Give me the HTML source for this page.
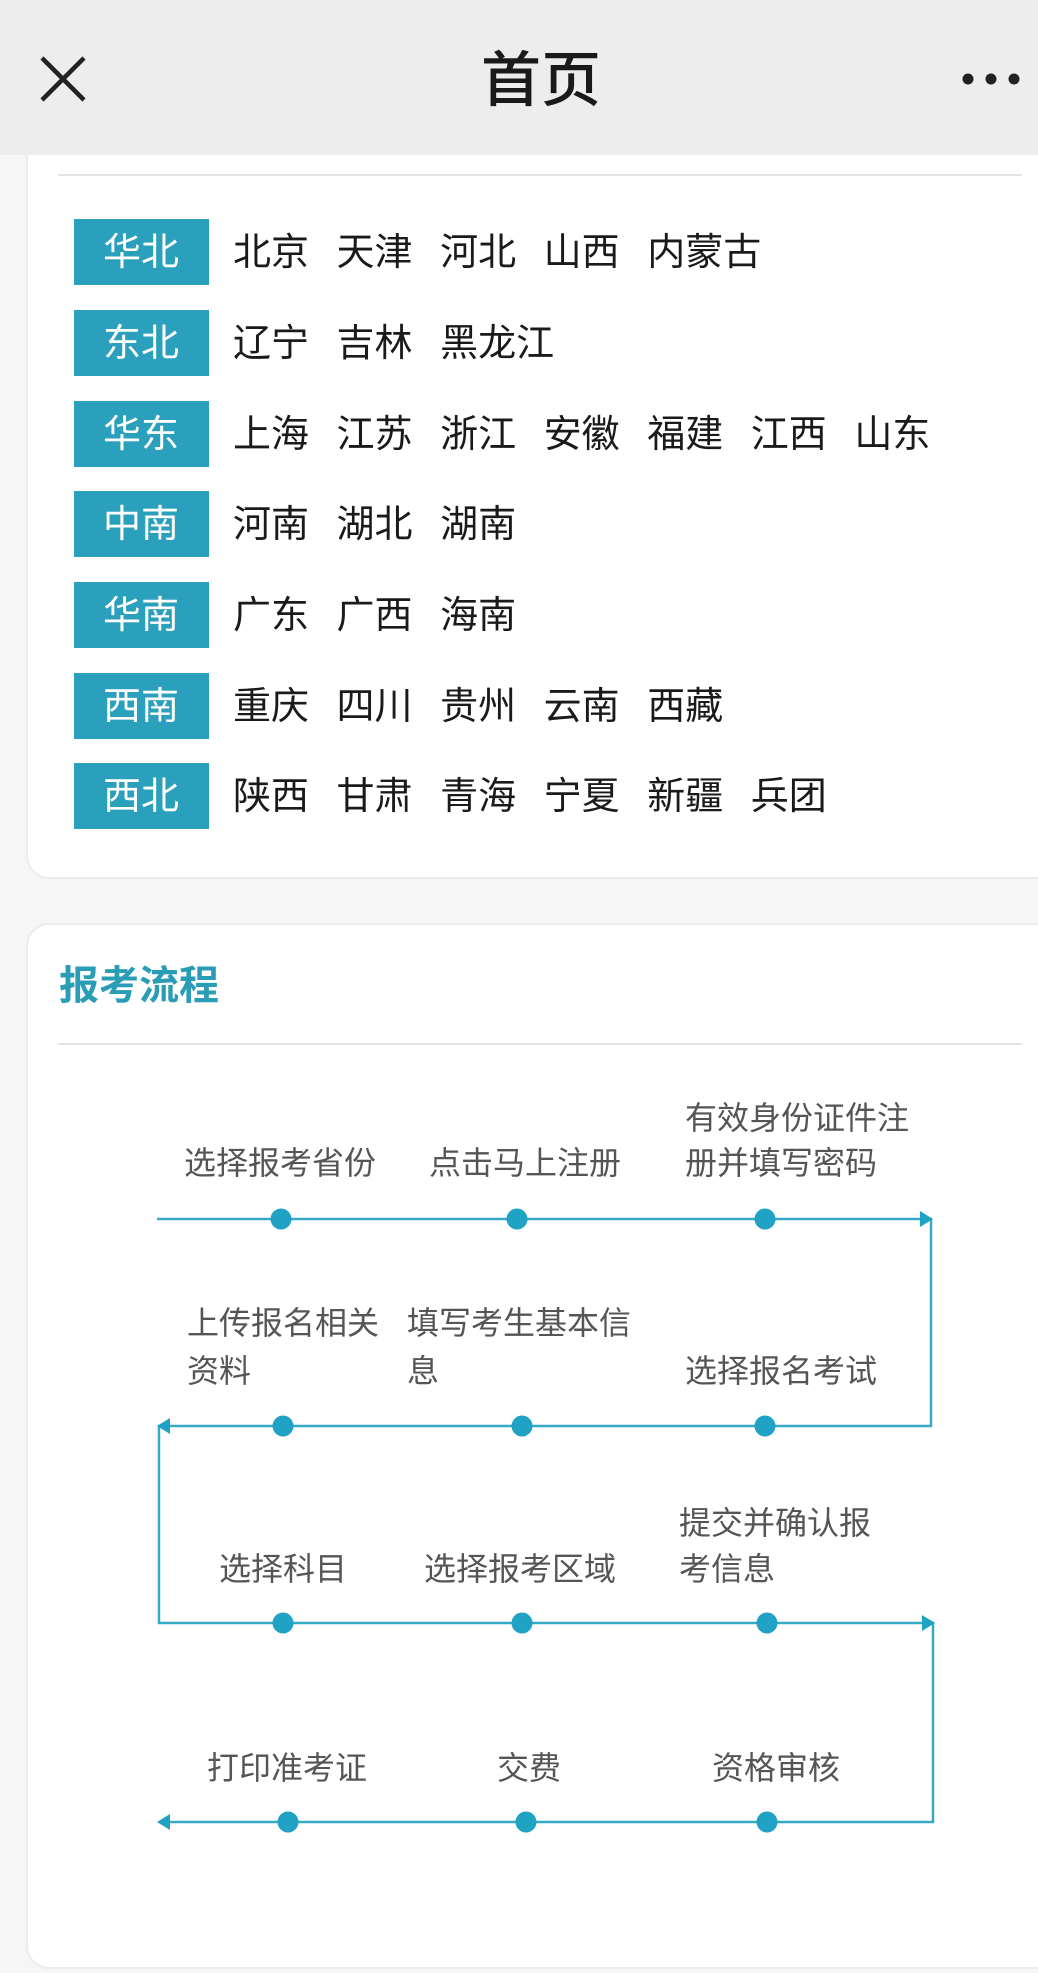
<!DOCTYPE html>
<html><head><meta charset="utf-8"><style>
html,body{margin:0;padding:0;width:1038px;height:1973px;background:#f6f6f6;overflow:hidden}
svg{display:block}
text{font-family:"Liberation Sans","Noto Sans CJK SC",sans-serif}
</style></head><body>
<svg width="1038" height="1973" viewBox="0 0 1038 1973" xmlns="http://www.w3.org/2000/svg">
<rect x="0" y="0" width="1038" height="1973" fill="#f6f6f6"/>
<rect x="27" y="120" width="1040" height="758" rx="22" fill="#fff" stroke="#ececec" stroke-width="2"/>
<line x1="58" y1="175" x2="1022" y2="175" stroke="#e3e3e3" stroke-width="2"/>
<rect x="0" y="0" width="1038" height="155" fill="#ededed"/>
<path d="M42 58 L84 100 M84 58 L42 100" stroke="#222" stroke-width="4.5"/>
<text x="541" y="101" text-anchor="middle" font-size="60" font-weight="500" fill="#1a1a1a">首页</text>
<circle cx="968" cy="79" r="5.5" fill="#222"/><circle cx="991" cy="79" r="5.5" fill="#222"/><circle cx="1014" cy="79" r="5.5" fill="#222"/>
<g font-size="38" fill="#1a1a1a">
<g transform="translate(0,219)"><rect x="74" width="135" height="66" fill="#2aa0bd"/><text x="141" y="46" text-anchor="middle" fill="#fff">华北</text><text x="233" y="46" word-spacing="17">北京 天津 河北 山西 内蒙古</text></g>
<g transform="translate(0,310)"><rect x="74" width="135" height="66" fill="#2aa0bd"/><text x="141" y="46" text-anchor="middle" fill="#fff">东北</text><text x="233" y="46" word-spacing="17">辽宁 吉林 黑龙江</text></g>
<g transform="translate(0,401)"><rect x="74" width="135" height="66" fill="#2aa0bd"/><text x="141" y="46" text-anchor="middle" fill="#fff">华东</text><text x="233" y="46" word-spacing="17">上海 江苏 浙江 安徽 福建 江西 山东</text></g>
<g transform="translate(0,491)"><rect x="74" width="135" height="66" fill="#2aa0bd"/><text x="141" y="46" text-anchor="middle" fill="#fff">中南</text><text x="233" y="46" word-spacing="17">河南 湖北 湖南</text></g>
<g transform="translate(0,582)"><rect x="74" width="135" height="66" fill="#2aa0bd"/><text x="141" y="46" text-anchor="middle" fill="#fff">华南</text><text x="233" y="46" word-spacing="17">广东 广西 海南</text></g>
<g transform="translate(0,673)"><rect x="74" width="135" height="66" fill="#2aa0bd"/><text x="141" y="46" text-anchor="middle" fill="#fff">西南</text><text x="233" y="46" word-spacing="17">重庆 四川 贵州 云南 西藏</text></g>
<g transform="translate(0,763)"><rect x="74" width="135" height="66" fill="#2aa0bd"/><text x="141" y="46" text-anchor="middle" fill="#fff">西北</text><text x="233" y="46" word-spacing="17">陕西 甘肃 青海 宁夏 新疆 兵团</text></g>
</g>
<rect x="27" y="924" width="1040" height="1044" rx="22" fill="#fff" stroke="#ececec" stroke-width="2"/>
<text x="59" y="999" font-size="40" font-weight="bold" fill="#2b9cb6">报考流程</text>
<line x1="58" y1="1044" x2="1022" y2="1044" stroke="#e3e3e3" stroke-width="2"/>
<g stroke="#36a9c6" stroke-width="2.5" fill="none">
<path d="M157 1219 H931 V1426 H159 V1623 H933 V1822 H159"/>
</g>
<g fill="#1fa2c4">
<path d="M933 1219 L920 1211 L920 1227 Z"/>
<path d="M157 1426 L170 1418 L170 1434 Z"/>
<path d="M935 1623 L922 1615 L922 1631 Z"/>
<path d="M157 1822 L170 1814 L170 1830 Z"/>
<circle cx="281" cy="1219" r="10.5"/><circle cx="517" cy="1219" r="10.5"/><circle cx="765" cy="1219" r="10.5"/>
<circle cx="283" cy="1426" r="10.5"/><circle cx="522" cy="1426" r="10.5"/><circle cx="765" cy="1426" r="10.5"/>
<circle cx="283" cy="1623" r="10.5"/><circle cx="522" cy="1623" r="10.5"/><circle cx="767" cy="1623" r="10.5"/>
<circle cx="288" cy="1822" r="10.5"/><circle cx="526" cy="1822" r="10.5"/><circle cx="767" cy="1822" r="10.5"/>
</g>
<g font-size="32" fill="#555">
<text x="184" y="1174">选择报考省份</text>
<text x="429" y="1174">点击马上注册</text>
<text x="685" y="1129">有效身份证件注</text>
<text x="685" y="1174">册并填写密码</text>
<text x="187" y="1334">上传报名相关</text>
<text x="187" y="1382">资料</text>
<text x="407" y="1334">填写考生基本信</text>
<text x="407" y="1382">息</text>
<text x="685" y="1382">选择报名考试</text>
<text x="219" y="1580">选择科目</text>
<text x="424" y="1580">选择报考区域</text>
<text x="679" y="1534">提交并确认报</text>
<text x="679" y="1580">考信息</text>
<text x="207" y="1779">打印准考证</text>
<text x="497" y="1779">交费</text>
<text x="712" y="1779">资格审核</text>
</g>
</svg>
</body></html>
